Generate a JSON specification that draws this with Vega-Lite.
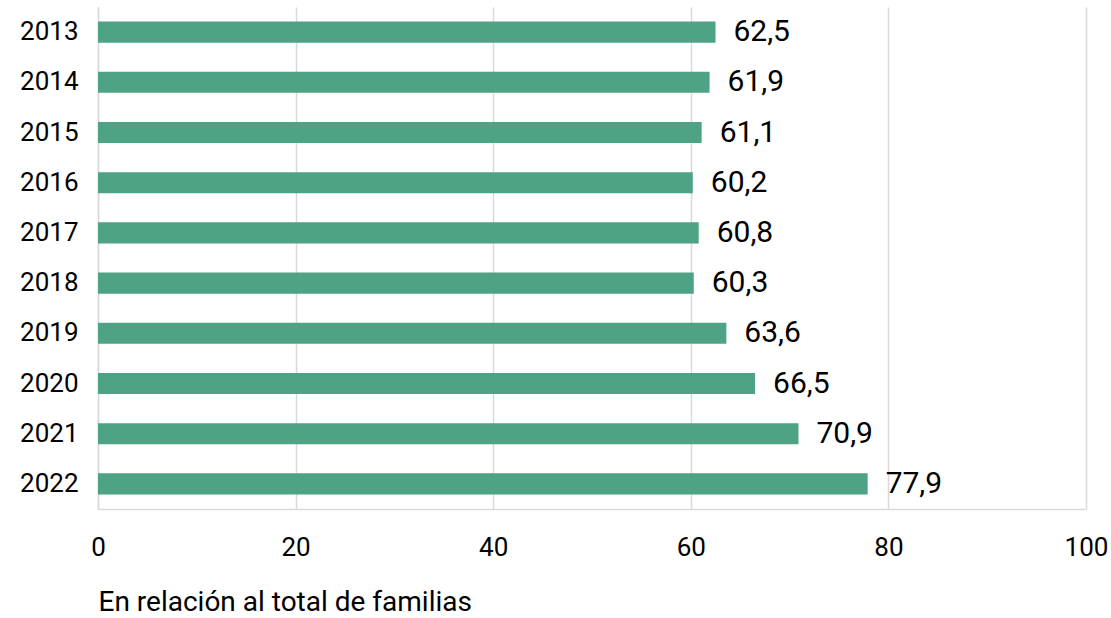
{
  "$schema": "https://vega.github.io/schema/vega-lite/v6.json",
  "width": 988,
  "height": 502,
  "autosize": {"type": "none"},
  "padding": {"left": 98, "top": 7, "right": 25, "bottom": 109},
  "config": {
    "locale": {"number": {"decimal": ",", "thousands": ".", "grouping": [3], "currency": ["", " €"]}},
    "font": "Roboto",
    "view": {"stroke": null}
  },
  "data": {
    "values": [
      {"year": "2013", "value": 62.5},
      {"year": "2014", "value": 61.9},
      {"year": "2015", "value": 61.1},
      {"year": "2016", "value": 60.2},
      {"year": "2017", "value": 60.8},
      {"year": "2018", "value": 60.3},
      {"year": "2019", "value": 63.6},
      {"year": "2020", "value": 66.5},
      {"year": "2021", "value": 70.9},
      {"year": "2022", "value": 77.9}
    ]
  },
  "encoding": {
    "y": {
      "field": "year", "type": "nominal", "sort": null,
      "scale": {"paddingInner": 0.58, "paddingOuter": 0.29},
      "axis": {"title": null, "ticks": false, "labelFontSize": 26, "labelColor": "#000000", "labelPadding": 20, "domainColor": "#d9d9d9", "domainWidth": 1.5, "grid": false}
    },
    "x": {
      "field": "value", "type": "quantitative",
      "scale": {"domain": [0, 100], "nice": false},
      "axis": {"values": [0, 20, 40, 60, 80, 100], "title": "En relación al total de familias", "titleFontSize": 28, "titleFontWeight": "normal", "titleColor": "#000000", "titleAnchor": "start", "titleAlign": "left", "titlePadding": 28, "ticks": false, "labelFontSize": 26, "labelColor": "#000000", "labelPadding": 25, "domainColor": "#d9d9d9", "domainWidth": 1.5, "gridColor": "#d9d9d9", "gridWidth": 1.5, "labelFlush": false}
    }
  },
  "layer": [
    {"mark": {"type": "bar", "color": "#4ea385"}},
    {
      "mark": {"type": "text", "align": "left", "baseline": "middle", "dx": 18, "fontSize": 30, "color": "#000000"},
      "encoding": {"text": {"field": "value", "type": "quantitative", "format": ".1f"}}
    }
  ]
}
